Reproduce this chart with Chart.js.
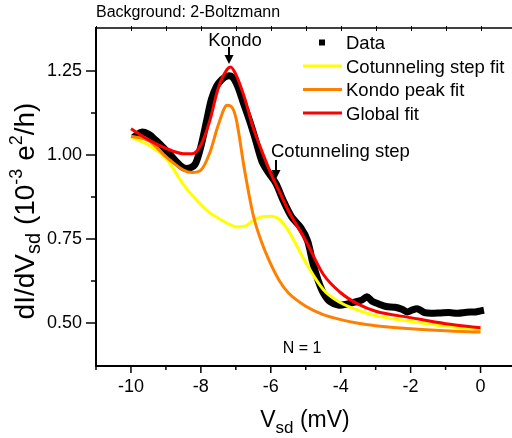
<!DOCTYPE html>
<html>
<head>
<meta charset="utf-8">
<script src="https://cdn.jsdelivr.net/npm/chart.js@4.4.1/dist/chart.umd.min.js"></script>
<style>
  html, body { margin: 0; padding: 0; background: #fff; overflow: hidden; }
</style>
</head>
<body>
<canvas id="myChart" width="512" height="438"></canvas>
<script>
// measured dI/dV trace
const vsd = [-9.85, -9.7, -9.5, -9.3, -9.1, -8.9, -8.7, -8.5, -8.3, -8.15, -8.0, -7.85, -7.7, -7.55, -7.4, -7.25,
  -7.1, -6.95, -6.8, -6.6, -6.45, -6.25, -6.05, -5.85, -5.65, -5.4, -5.15, -4.95, -4.8, -4.65, -4.5, -4.3,
  -4.05, -3.8, -3.6, -3.4, -3.25, -3.1, -2.9, -2.7, -2.45, -2.25, -2.1, -1.95, -1.8, -1.6, -1.4, -1.15,
  -0.9, -0.65, -0.4, -0.15, 0.0];
const dIdV = [1.058, 1.068, 1.062, 1.045, 1.025, 1.003, 0.980, 0.962, 0.962, 0.975, 1.025, 1.095, 1.165, 1.205, 1.225, 1.235,
  1.232, 1.205, 1.160, 1.100, 1.050, 0.980, 0.945, 0.915, 0.866, 0.815, 0.785, 0.745, 0.680, 0.628, 0.590, 0.563,
  0.553, 0.557, 0.562, 0.568, 0.578, 0.565, 0.556, 0.549, 0.547, 0.541, 0.533, 0.539, 0.542, 0.531, 0.529, 0.530,
  0.531, 0.529, 0.532, 0.533, 0.536];

// fit curves, sampled on a common bias grid
const fitV = [-10, -9.5, -9, -8.5, -8.25, -8, -7.75, -7.5, -7.25, -7.15, -7, -6.75, -6.5, -6.25, -6, -5.75, -5.5, -5,
  -4.5, -4, -3.5, -3, -2, -1, 0];
const cotunnelingFit = [1.053, 1.030, 0.990, 0.912, 0.880, 0.852, 0.828, 0.812, 0.797, 0.792, 0.786, 0.788, 0.805, 0.816,
  0.818, 0.808, 0.775, 0.680, 0.600, 0.560, 0.538, 0.522, 0.505, 0.490, 0.479];
const kondoFit = [1.056, 1.043, 0.995, 0.955, 0.948, 0.955, 1.005, 1.090, 1.148, 1.146, 1.112, 0.955, 0.820, 0.737,
  0.675, 0.625, 0.590, 0.550, 0.525, 0.510, 0.499, 0.492, 0.483, 0.477, 0.473];
const globalFit = [1.078, 1.045, 1.020, 1.004, 1.004, 1.030, 1.100, 1.200, 1.255, 1.262, 1.240, 1.170, 1.080, 1.010,
  0.945, 0.890, 0.835, 0.745, 0.645, 0.590, 0.556, 0.535, 0.516, 0.498, 0.486];

const seriesNames = ['Data', 'Cotunneling step fit', 'Kondo peak fit', 'Global fit'];
const seriesColors = ['#000000', '#ffff00', '#ff8000', '#ff0000'];

const xMajor = [-10, -8, -6, -4, -2, 0];
const xMinor = [-11, -9, -7, -5, -3, -1];
const yMajor = [0.5, 0.75, 1.0, 1.25];
const yMinor = [0.625, 0.875, 1.125];

const FONT = '"Liberation Sans", Arial, sans-serif';
Chart.defaults.font.family = FONT;
Chart.defaults.color = '#000';

function pts(xs, ys) {
  return xs.map((v, i) => ({x: v, y: ys[i]}));
}

// text made of runs with their own size and vertical shift (sub/superscripts)
function richText(ctx, parts, x, y) {
  let w = 0;
  parts.forEach(p => { ctx.font = p[1] + 'px ' + FONT; w += ctx.measureText(p[0]).width; });
  let cx = x - w / 2;
  parts.forEach(p => {
    ctx.font = p[1] + 'px ' + FONT;
    ctx.fillText(p[0], cx, y + p[2]);
    cx += ctx.measureText(p[0]).width;
  });
}

function arrowDown(ctx, x, y0, y1) {
  ctx.lineWidth = 2;
  ctx.beginPath();
  ctx.moveTo(x, y0);
  ctx.lineTo(x, y1 - 7);
  ctx.stroke();
  ctx.beginPath();
  ctx.moveTo(x - 4.5, y1 - 9);
  ctx.lineTo(x + 4.5, y1 - 9);
  ctx.lineTo(x, y1);
  ctx.closePath();
  ctx.fill();
}

const decorations = {
  id: 'decorations',
  afterDraw(chart) {
    const {ctx, chartArea: a, scales: {x, y}} = chart;
    ctx.save();
    ctx.strokeStyle = '#000';
    ctx.fillStyle = '#000';

    // top frame line with small ticks
    ctx.lineWidth = 1.5;
    ctx.beginPath();
    ctx.moveTo(a.left, a.top);
    ctx.lineTo(a.right, a.top);
    ctx.stroke();
    ctx.lineWidth = 1;
    xMajor.concat(xMinor).forEach(v => {
      const px = Math.round(x.getPixelForValue(v)) + 0.5;
      ctx.beginPath();
      ctx.moveTo(px, a.top - 2);
      ctx.lineTo(px, a.top + 3);
      ctx.stroke();
    });

    // outward tick marks on the bottom and left axes
    ctx.lineWidth = 1.5;
    const xt = (v, len) => {
      const px = x.getPixelForValue(v);
      ctx.beginPath();
      ctx.moveTo(px, a.bottom);
      ctx.lineTo(px, a.bottom + len);
      ctx.stroke();
    };
    xMajor.forEach(v => xt(v, 7));
    xMinor.forEach(v => xt(v, 4));
    const yt = (v, len) => {
      const py = y.getPixelForValue(v);
      ctx.beginPath();
      ctx.moveTo(a.left, py);
      ctx.lineTo(a.left - len, py);
      ctx.stroke();
    };
    yMajor.forEach(v => yt(v, 10));
    yMinor.forEach(v => yt(v, 5));

    // heading
    ctx.textAlign = 'left';
    ctx.textBaseline = 'alphabetic';
    ctx.font = '16px ' + FONT;
    ctx.fillText('Background: 2-Boltzmann', 96, 17);

    // axis titles
    richText(ctx, [['V', 23, 0], ['sd', 17, 6], [' (mV)', 23, 0]], 305, 427);
    ctx.save();
    ctx.translate(34, 211);
    ctx.rotate(-Math.PI / 2);
    richText(ctx, [['dI/dV', 28, 0], ['sd', 20, 6], [' (10', 28, 0], ['-3', 18, -12],
      [' e', 28, 0], ['2', 18, -12], ['/h)', 28, 0]], 0, 0);
    ctx.restore();

    // feature labels
    ctx.font = '18.5px ' + FONT;
    ctx.textAlign = 'center';
    ctx.fillText('Kondo', 235, 46);
    arrowDown(ctx, 229, 47, 64);
    ctx.textAlign = 'left';
    ctx.fillText('Cotunneling step', 271, 157);
    arrowDown(ctx, 276, 160, 179);
    ctx.font = '16px ' + FONT;
    ctx.textAlign = 'center';
    ctx.fillText('N = 1', 302, 353);

    // legend
    const rows = [42.5, 66, 89.5, 113];
    ctx.textAlign = 'left';
    ctx.font = '18.5px ' + FONT;
    rows.forEach((ry, i) => {
      if (i === 0) {
        ctx.fillStyle = seriesColors[0];
        ctx.fillRect(319, ry - 3, 6, 6);
      } else {
        ctx.strokeStyle = seriesColors[i];
        ctx.lineWidth = 3;
        ctx.beginPath();
        ctx.moveTo(303, ry);
        ctx.lineTo(342, ry);
        ctx.stroke();
      }
      ctx.fillStyle = '#000';
      ctx.fillText(seriesNames[i], 346, ry + 6.5);
    });
    ctx.restore();
  }
};

new Chart(document.getElementById('myChart'), {
  type: 'scatter',
  data: {
    datasets: [
      {
        label: seriesNames[3], data: pts(fitV, globalFit), showLine: true,
        borderColor: seriesColors[3], borderWidth: 3, pointRadius: 0,
        cubicInterpolationMode: 'monotone'
      },
      {
        label: seriesNames[2], data: pts(fitV, kondoFit), showLine: true,
        borderColor: seriesColors[2], borderWidth: 3, pointRadius: 0,
        cubicInterpolationMode: 'monotone'
      },
      {
        label: seriesNames[1], data: pts(fitV, cotunnelingFit), showLine: true,
        borderColor: seriesColors[1], borderWidth: 3, pointRadius: 0,
        cubicInterpolationMode: 'monotone'
      },
      {
        label: seriesNames[0], data: pts(vsd, dIdV), showLine: true,
        borderColor: seriesColors[0], borderWidth: 7, pointRadius: 0,
        tension: 0.3, borderCapStyle: 'square'
      }
    ]
  },
  options: {
    responsive: false,
    animation: false,
    events: [],
    layout: {padding: {top: 28, left: 0, right: 0, bottom: 0}},
    plugins: {legend: {display: false}, tooltip: {enabled: false}},
    scales: {
      x: {
        type: 'linear', min: -11, max: 0.9,
        afterBuildTicks: s => { s.ticks = xMajor.map(v => ({value: v})); },
        afterFit: s => { s.height = 72; },
        ticks: {font: {size: 18}, padding: 10, callback: v => String(v)},
        grid: {display: false, drawTicks: false},
        border: {display: true, color: '#000', width: 2}
      },
      y: {
        min: 0.372, max: 1.378,
        afterBuildTicks: s => { s.ticks = yMajor.map(v => ({value: v})); },
        afterFit: s => { s.width = 96; },
        ticks: {font: {size: 18}, padding: 14, callback: v => v.toFixed(2)},
        grid: {display: false, drawTicks: false},
        border: {display: true, color: '#000', width: 2}
      }
    }
  },
  plugins: [decorations]
});
</script>
</body>
</html>
